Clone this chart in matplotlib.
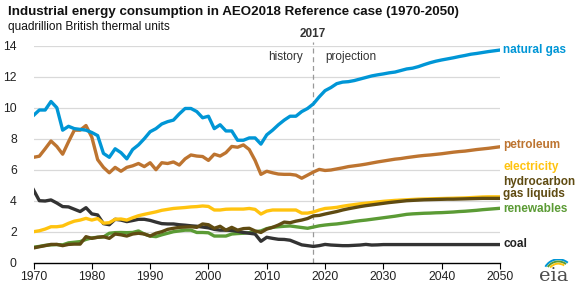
import matplotlib
matplotlib.use("Agg")
import matplotlib.pyplot as plt
from matplotlib.patches import Arc

plt.rcParams['font.family'] = ['Liberation Sans', 'DejaVu Sans']

years = list(range(1970, 2051))

natural_gas = [9.5, 9.85, 9.85, 10.4, 10.0, 8.55, 8.8, 8.65, 8.6, 8.55,
               8.4, 8.2, 7.05, 6.8, 7.35, 7.1, 6.7, 7.3, 7.6, 8.0,
               8.45, 8.65, 8.95, 9.1, 9.2, 9.6, 9.95, 9.95, 9.75, 9.35,
               9.45, 8.65, 8.9, 8.5, 8.5, 7.9, 7.9, 8.05, 8.05, 7.65,
               8.25, 8.55, 8.9, 9.2, 9.45, 9.45, 9.75, 9.95, 10.25, 10.7,
               11.1, 11.3, 11.55, 11.65, 11.68, 11.75, 11.85, 11.95, 12.05, 12.12,
               12.18, 12.25, 12.3, 12.4, 12.5, 12.55, 12.65, 12.78, 12.9, 13.0,
               13.08, 13.15, 13.22, 13.3, 13.37, 13.45, 13.5, 13.56, 13.62, 13.67,
               13.72]

petroleum = [6.8, 6.87, 7.35, 7.85, 7.5, 7.0, 7.8, 8.55, 8.55, 8.85,
             8.1, 6.65, 6.15, 5.8, 6.15, 5.9, 6.15, 6.25, 6.4, 6.2,
             6.45, 6.0, 6.45, 6.4, 6.5, 6.3, 6.7, 6.95, 6.88, 6.85,
             6.6, 7.0, 6.88, 7.1, 7.5, 7.45, 7.6, 7.3, 6.6, 5.7,
             5.9, 5.8, 5.72, 5.7, 5.7, 5.65, 5.45, 5.65, 5.85, 6.02,
             5.95, 5.98, 6.05, 6.12, 6.2, 6.25, 6.3, 6.36, 6.43, 6.5,
             6.56, 6.62, 6.68, 6.72, 6.78, 6.83, 6.88, 6.92, 6.95, 6.99,
             7.03, 7.08, 7.13, 7.17, 7.2, 7.25, 7.3, 7.34, 7.38, 7.43,
             7.48]

electricity = [2.0, 2.06, 2.17, 2.32, 2.32, 2.37, 2.54, 2.68, 2.75, 2.86,
               2.75, 2.85, 2.55, 2.58, 2.8, 2.82, 2.75, 2.9, 3.03, 3.12,
               3.2, 3.28, 3.38, 3.44, 3.5, 3.53, 3.56, 3.6, 3.62, 3.66,
               3.63, 3.4, 3.4, 3.45, 3.46, 3.46, 3.46, 3.5, 3.44, 3.14,
               3.33, 3.4, 3.4, 3.4, 3.4, 3.4, 3.2, 3.2, 3.27, 3.4,
               3.5, 3.53, 3.57, 3.64, 3.7, 3.75, 3.8, 3.84, 3.88, 3.92,
               3.96, 3.99, 4.02, 4.04, 4.06, 4.08, 4.1, 4.11, 4.12, 4.13,
               4.14, 4.15, 4.16, 4.17, 4.18, 4.2, 4.22, 4.24, 4.25, 4.25,
               4.25]

hgl = [0.95, 1.03, 1.1, 1.18, 1.18, 1.1, 1.18, 1.2, 1.2, 1.68,
       1.57, 1.64, 1.68, 1.57, 1.85, 1.8, 1.72, 1.85, 1.9, 1.85,
       1.72, 1.9, 2.0, 2.15, 2.22, 2.28, 2.3, 2.32, 2.28, 2.5,
       2.45, 2.22, 2.35, 2.1, 2.28, 2.1, 2.2, 2.22, 2.05, 1.95,
       2.17, 2.28, 2.43, 2.62, 2.58, 2.68, 2.75, 2.85, 3.02, 3.05,
       3.14, 3.22, 3.3, 3.4, 3.48, 3.55, 3.62, 3.68, 3.73, 3.78,
       3.83, 3.88, 3.92, 3.96, 4.0, 4.02, 4.04, 4.06, 4.07, 4.08,
       4.09, 4.1, 4.1, 4.11, 4.12, 4.13, 4.14, 4.15, 4.15, 4.15,
       4.15]

renewables = [1.0, 1.05, 1.12, 1.15, 1.17, 1.15, 1.28, 1.32, 1.36, 1.5,
              1.6, 1.64, 1.66, 1.9, 1.94, 1.95, 1.94, 1.95, 2.05, 1.85,
              1.72, 1.68, 1.8, 1.9, 2.0, 2.05, 2.1, 2.1, 1.95, 1.95,
              1.93, 1.72, 1.72, 1.72, 1.85, 1.88, 1.9, 1.94, 2.0, 2.05,
              2.2, 2.28, 2.32, 2.35, 2.37, 2.32, 2.27, 2.22, 2.3, 2.38,
              2.43, 2.47, 2.5, 2.55, 2.6, 2.66, 2.71, 2.75, 2.8, 2.85,
              2.9, 2.95, 3.0, 3.06, 3.12, 3.15, 3.17, 3.19, 3.2, 3.22,
              3.23, 3.25, 3.27, 3.3, 3.32, 3.35, 3.38, 3.42, 3.45, 3.48,
              3.51]

coal = [4.7, 4.0, 3.98, 4.05, 3.85, 3.62, 3.6, 3.45, 3.3, 3.55,
        3.15, 3.08, 2.52, 2.45, 2.8, 2.75, 2.65, 2.72, 2.8, 2.8,
        2.73, 2.62, 2.52, 2.5, 2.5, 2.45, 2.42, 2.38, 2.35, 2.3,
        2.25, 2.15, 2.1, 2.1, 2.08, 2.02, 1.95, 1.9, 1.85, 1.38,
        1.64, 1.57, 1.51, 1.5, 1.45, 1.3, 1.15, 1.1, 1.05, 1.1,
        1.18, 1.14, 1.12, 1.1, 1.1, 1.12, 1.14, 1.18, 1.14, 1.15,
        1.17, 1.17, 1.17, 1.17, 1.17, 1.17, 1.17, 1.17, 1.17, 1.17,
        1.17, 1.17, 1.17, 1.17, 1.17, 1.17, 1.17, 1.17, 1.17, 1.17,
        1.17]

x_ticks = [1970, 1980, 1990, 2000, 2010, 2020, 2030, 2040, 2050]
y_ticks = [0, 2, 4, 6, 8, 10, 12, 14]

title = "Industrial energy consumption in AEO2018 Reference case (1970-2050)"
subtitle = "quadrillion British thermal units"

C_GAS = '#0096d6'
C_PET = '#bd7430'
C_ELE = '#ffc30f'
C_HGL = '#5f4b12'
C_REN = '#5b9b35'
C_COAL = '#333333'

W, H = 580, 289
fig = plt.figure(figsize=(W / 100, H / 100), dpi=100)
ax = fig.add_axes([33.5 / W, 26.3 / H, (500 - 33.5) / W, (262.7 - 45.7) / H])

lw = 2.4
series = [
    (renewables, C_REN),
    (coal, C_COAL),
    (electricity, C_ELE),
    (hgl, C_HGL),
    (petroleum, C_PET),
    (natural_gas, C_GAS),
]
for vals, col in series:
    ax.plot(years, vals, color=col, lw=lw, solid_joinstyle='round', zorder=3)

ax.set_xlim(1970, 2050)
ax.set_ylim(0, 14)
for yv in y_ticks[1:]:
    ax.axhline(yv, color='#d9d9d9', lw=0.9, zorder=1)

for s in ['top', 'right', 'left']:
    ax.spines[s].set_visible(False)
ax.spines['bottom'].set_color('black')
ax.spines['bottom'].set_linewidth(1.0)

ax.set_xticks(x_ticks)
ax.set_yticks(y_ticks)
ax.tick_params(axis='x', direction='out', length=4, width=0.8, colors='black',
               labelsize=8.8, pad=2, labelcolor='#222222')
ax.tick_params(axis='y', length=0, labelsize=8.8, pad=12, labelcolor='#222222')

# history / projection divider
xdiv = 2017.85
ax.plot([xdiv, xdiv], [0, 14.25], color='#999999', lw=0.9, ls=(0, (4, 3)),
        clip_on=False, zorder=2)
ax.text(xdiv, 14.35, '2017', ha='center', va='bottom', fontsize=8.5,
        fontweight='bold', color='#333333', clip_on=False)
ax.text(xdiv - 1.6, 13.25, 'history', ha='right', va='center', fontsize=8.5,
        color='#333333')
ax.text(xdiv + 2.2, 13.25, 'projection', ha='left', va='center', fontsize=8.5,
        color='#333333')

# right-side labels
lab_x = 2050.6
labels = [
    ('natural gas', 13.72, C_GAS),
    ('petroleum', 7.6, C_PET),
    ('electricity', 6.15, C_ELE),
    ('hydrocarbon', 5.22, C_HGL),
    ('gas liquids', 4.4, C_HGL),
    ('renewables', 3.45, C_REN),
    ('coal', 1.2, '#222222'),
]
for txt, yv, col in labels:
    ax.text(lab_x, yv, txt, ha='left', va='center', fontsize=8.5,
            fontweight='bold', color=col, clip_on=False)

fig.text(8 / W, 1 - 12 / H, title, ha='left', va='center', fontsize=9.6,
         fontweight='bold', color='#111111')
fig.text(8 / W, 1 - 27 / H, subtitle, ha='left', va='center', fontsize=8.6,
         color='#111111')

# eia logo approximation
lax = fig.add_axes([536 / W, 4 / H, 36 / W, 26 / H])
lax.set_xlim(0, 1)
lax.set_ylim(0, 1)
lax.axis('off')
lax.text(0.5, 0.0, 'eia', ha='center', va='bottom', fontsize=14,
         family='DejaVu Serif', color='#4d4d4d')
for (col, r, t1, t2) in [('#0096d6', 0.42, 60, 140), ('#5b9b35', 0.36, 62, 135),
                         ('#ffc30f', 0.30, 65, 130)]:
    lax.add_patch(Arc((0.62, 0.4), 2 * r, 2 * r * 1.4, theta1=t1, theta2=t2,
                      color=col, lw=1.4))

fig.savefig('out.png', dpi=100)
